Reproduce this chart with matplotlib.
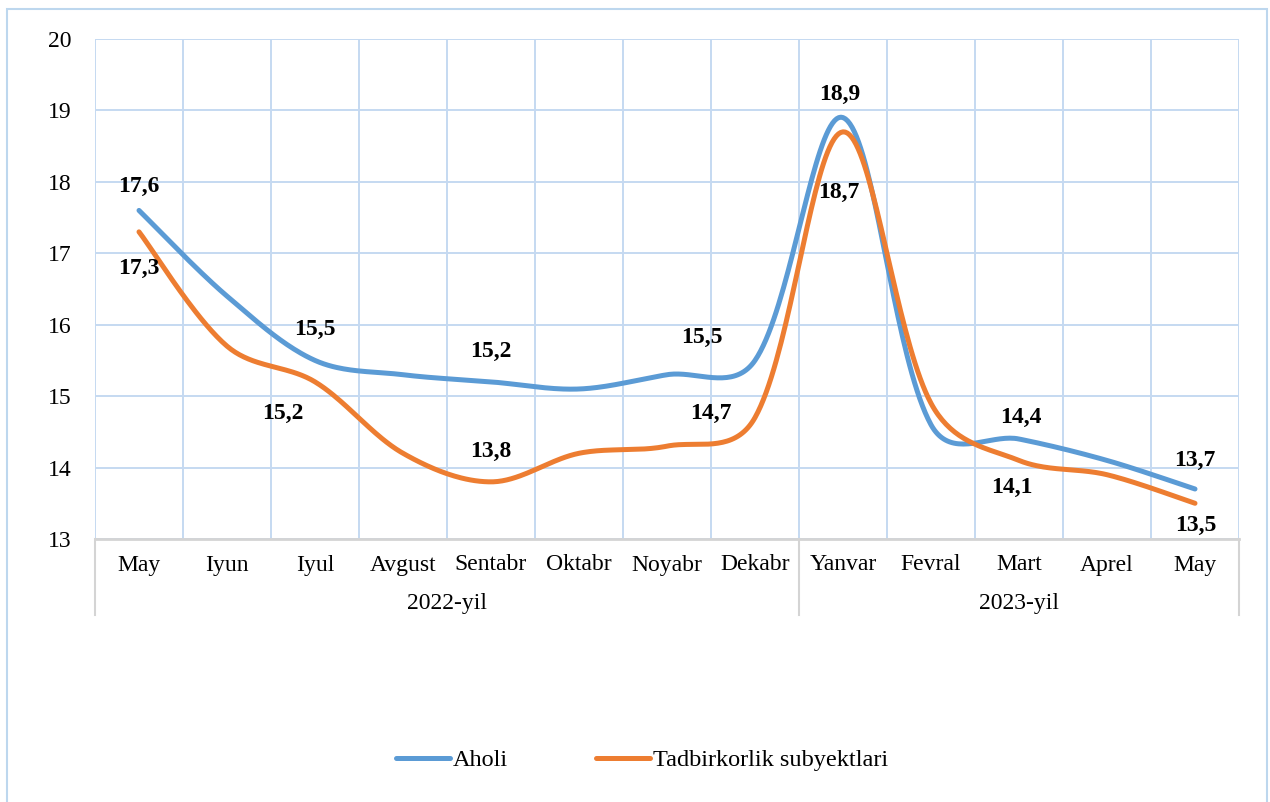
import numpy as np
import matplotlib.pyplot as plt
from matplotlib.patches import Rectangle
from matplotlib.lines import Line2D

plt.rcParams['font.family'] = ['Liberation Serif', 'DejaVu Serif']

# data
months = ['May', 'Iyun', 'Iyul', 'Avgust', 'Sentabr', 'Oktabr', 'Noyabr', 'Dekabr',
          'Yanvar', 'Fevral', 'Mart', 'Aprel', 'May']
years = ['2022-yil', '2023-yil']
year_sizes = [8, 5]
aholi = [17.6, 16.4, 15.5, 15.3, 15.2, 15.1, 15.3, 15.5, 18.9, 14.6, 14.4, 14.1, 13.7]
tadbir = [17.3, 15.7, 15.2, 14.2, 13.8, 14.2, 14.3, 14.7, 18.7, 14.9, 14.1, 13.9, 13.5]

# months that carry a data label
lbl_idx = [0, 2, 4, 7, 8, 10, 12]
# label offsets in pixels (dx, dy)
aholi_off = [(0, 24), (0, 31), (0, 30), (-53, 23), (-3, 23), (2, 22), (0, 29)]
tadbir_off = [(0, -37), (-32, -32), (0, 30), (-44, 4), (-4, -61), (-7, -27), (1, -22)]

BLUE = '#5B9BD5'
ORANGE = '#ED7D31'
GRID = '#C5D9F1'
AXIS = '#D4D4D4'
FS = 17
PX_X, PX_Y = 88.0, 500 / 7  # pixels per x unit / y unit


def smooth(y, n=40):
    # Excel-like smoothed line: bezier segments, control points weighted by sqrt of segment length
    p = np.column_stack([np.arange(len(y)) * PX_X, np.asarray(y, dtype=float) * PX_Y])
    L = np.sqrt(np.hypot(*np.diff(p, axis=0).T))
    out = []
    t = np.linspace(0, 1, n)[:, None]
    for i in range(len(p) - 1):
        p1, p2 = p[i], p[i + 1]
        if i > 0:
            b1 = p1 + (p2 - p[i - 1]) * L[i] / (L[i - 1] + L[i]) / 3
        else:
            b1 = p1 + (p2 - p1) / 6
        if i + 2 < len(p):
            b2 = p2 - (p[i + 2] - p1) * L[i] / (L[i] + L[i + 1]) / 3
        else:
            b2 = p2 - (p2 - p1) / 6
        seg = ((1 - t) ** 3) * p1 + 3 * ((1 - t) ** 2) * t * b1 + 3 * (1 - t) * t ** 2 * b2 + t ** 3 * p2
        out.append(seg)
    out = np.vstack(out)
    return out[:, 0] / PX_X, out[:, 1] / PX_Y


W, H = 1270, 802
fig = plt.figure(figsize=(W / 100, H / 100), dpi=100)
ax = fig.add_axes([95 / W, 1 - 539 / H, 1144 / W, 500 / H])

ax.set_xlim(-0.5, len(months) - 0.5)
ax.set_ylim(13, 20)
ax.set_yticks(range(13, 21))
ax.set_xticks(np.arange(-0.5, len(months), 1.0))
ax.set_xticklabels([])
ax.grid(True, color=GRID, lw=1.4)
ax.tick_params(axis='both', length=0)
ax.tick_params(axis='y', pad=17, labelsize=FS)
for s in ax.spines.values():
    s.set_visible(False)
ax.axhline(13, color=AXIS, lw=2, clip_on=False, zorder=3)

for vals, col in [(aholi, BLUE), (tadbir, ORANGE)]:
    xs, ys = smooth(vals)
    ax.plot(xs, ys, color=col, lw=3.6, solid_capstyle='round', zorder=4)

for vals, offs in [(aholi, aholi_off), (tadbir, tadbir_off)]:
    for i, o in zip(lbl_idx, offs):
        ax.annotate(f'{vals[i]:.1f}'.replace('.', ','), (i, vals[i]), xytext=o,
                    textcoords='offset pixels', ha='center', va='center',
                    fontsize=FS, fontweight='bold', zorder=5)

# category axis (months + years)
tr = ax.get_xaxis_transform()
for i, m in enumerate(months):
    ax.text(i, -26 / 500, m, transform=tr, ha='center', va='center', fontsize=FS)
start = -0.5
ax.plot([start, start], [0, -76 / 500], transform=tr, color=AXIS, lw=1.5, clip_on=False)
for y, n in zip(years, year_sizes):
    ax.text(start + n / 2, -64 / 500, y, transform=tr, ha='center', va='center', fontsize=FS)
    start += n
    ax.plot([start, start], [0, -76 / 500], transform=tr, color=AXIS, lw=1.5, clip_on=False)

handles = [Line2D([], [], color=BLUE, lw=3.6, solid_capstyle='round'),
           Line2D([], [], color=ORANGE, lw=3.6, solid_capstyle='round')]
fig.legend(handles, ['Aholi', 'Tadbirkorlik subyektlari'], loc='center',
           bbox_to_anchor=(642 / W, 1 - 760 / H), ncol=2, frameon=False, fontsize=17.5,
           handlelength=2.25, handletextpad=0.12, columnspacing=3.6)

fig.patches.append(Rectangle((7 / W, -0.05), 1260 / W, 1 - 9 / H + 0.05, transform=fig.transFigure,
                             fill=False, edgecolor='#BDD7EE', lw=1.5))

fig.savefig('out.png', dpi=100)
